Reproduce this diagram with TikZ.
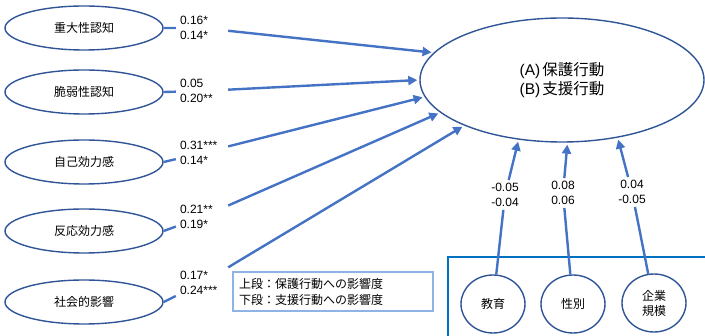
\documentclass[tikz,border=0pt]{standalone}
\usepackage{fontspec}
\setmainfont{Liberation Sans}
\newfontfamily\jp{Noto Sans CJK JP}
\usetikzlibrary{shapes.geometric,arrows.meta}
\definecolor{arrowblue}{HTML}{4472C4}
\definecolor{ellblue}{HTML}{2F5597}
\definecolor{boxblue}{HTML}{0070C0}
\definecolor{legblue}{HTML}{8FB4E3}
\begin{document}
\begin{tikzpicture}[x=1pt,y=-1pt,
  factor/.style={ellipse,draw=ellblue,line width=1.4pt,minimum width=158pt,minimum height=44pt,inner sep=0pt,font=\jp\fontsize{12}{15}\selectfont},
  ctrl/.style={ellipse,draw=ellblue,line width=1.4pt,minimum width=64pt,minimum height=58pt,inner sep=0pt,align=center,font=\jp\fontsize{12}{15}\selectfont},
  coef/.style={fill=white,text width=44pt,align=left,inner sep=4pt,font=\fontsize{12}{15}\selectfont},
  coefv/.style={fill=white,align=center,inner sep=3pt,font=\fontsize{12}{15}\selectfont},
  pathline/.style={draw=arrowblue,line width=2.4pt,-{Triangle[length=9pt,width=9pt]},shorten >=2pt}
]
\useasboundingbox (0,0) rectangle (705,336);
% bottom box
\draw[boxblue,line width=2.6pt] (448,257) rectangle (715,345);
% main ellipse
\node[ellipse,draw=ellblue,line width=1.4pt,minimum width=284pt,minimum height=124pt,inner sep=0pt,align=center,font=\fontsize{15.5}{18.5}\selectfont] (big) at (562,80) {(A)\hspace{2pt}{\jp 保護行動}\\(B)\hspace{2pt}{\jp 支援行動}};
% factors
\node[factor] (e1) at (84,28) {重大性認知};
\node[factor] (e2) at (84,92) {脆弱性認知};
\node[factor] (e3) at (84,162) {自己効力感};
\node[factor] (e4) at (84,231) {反応効力感};
\node[factor] (e5) at (84,302) {社会的影響};
% coefficient labels
\node[coef] (l1) at (202,28) {0.16*\\0.14*};
\node[coef] (l2) at (202,91) {0.05\\0.20**};
\node[coef] (l3) at (202,153) {0.31***\\0.14*};
\node[coef] (l4) at (202,217) {0.21**\\0.19*};
\node[coef] (l5) at (202,283) {0.17*\\0.24***};
% controls
\node[ctrl] (s1) at (493,304) {教育};
\node[ctrl] (s2) at (573,304) {性別};
\node[ctrl] (s3) at (654,303) {企業\\規模};
\node[coefv] (l6) at (505,195) {-0.05\\-0.04};
\node[coefv] (l7) at (563,193) {0.08\\0.06};
\node[coefv] (l8) at (632,192) {0.04\\-0.05};
% legend
\node[draw=legblue,line width=1.2pt,text width=188pt,inner sep=6pt,align=left,font=\jp\fontsize{12}{16}\selectfont] (leg) at (333,291.5) {上段：保護行動への影響度\\下段：支援行動への影響度};
% connectors
\draw[pathline] (e1.east) -- (l1) -- (big.168);
\draw[pathline] (e2.east) -- (l2) -- (big.180);
\draw[pathline] (e3.east) -- (l3) -- (big.187);
\draw[pathline] (e4.east) -- (l4) -- (big.195);
\draw[pathline] (e5.east) -- (l5) -- (big.205);
\draw[pathline] (s1) -- (l6) -- (big.234);
\draw[pathline] (s2) -- (l7) -- (big.275);
\draw[pathline] (s3) -- (l8) -- (big.314);
\end{tikzpicture}
\end{document}
